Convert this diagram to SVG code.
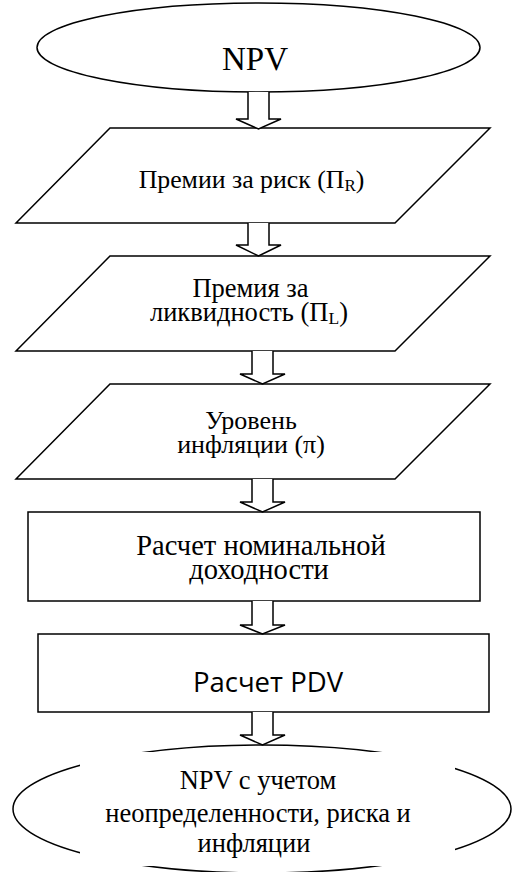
<svg xmlns="http://www.w3.org/2000/svg" width="512" height="872" viewBox="0 0 512 872">
<style>
.s{fill:#fff;stroke:#000;stroke-width:1.5}
.t{font-family:"Liberation Serif","Times New Roman",serif;fill:#000;text-anchor:middle}
.ts{font-family:"Open Sans","Noto Sans",sans-serif;fill:#000;text-anchor:middle}
.a{fill:#fff;stroke:#000;stroke-width:1.5;stroke-linejoin:miter}
</style>
<rect width="512" height="872" fill="#fff"/>
<g id="n1">
<ellipse class="s" cx="258.5" cy="47.5" rx="221.5" ry="44.5"/>
<text class="t" x="255" y="70" font-size="33">NPV</text>
</g>
<g id="n2">
<polygon class="s" points="110,128 490,128 395,223 16,223"/>
<text class="t" x="251.5" y="188" font-size="25.8">Премии за риск (П<tspan font-size="17" dy="3">R</tspan><tspan dy="-3">)</tspan></text>
</g>
<g id="n3">
<polygon class="s" points="110,256 490,256 395,351 16,351"/>
<text class="t" font-size="26.5"><tspan x="250.5" y="297">Премия за</tspan><tspan x="249" y="321">ликвидность (П<tspan font-size="17.5" dy="3">L</tspan><tspan dy="-3">)</tspan></tspan></text>
</g>
<g id="n4">
<polygon class="s" points="110,384 490,384 395,479 16,479"/>
<text class="t" font-size="26"><tspan x="251" y="429">Уровень</tspan><tspan x="251" y="453">инфляции (π)</tspan></text>
</g>
<g id="n5">
<rect class="s" x="28" y="512" width="452" height="89"/>
<text class="t" font-size="28.5"><tspan x="261" y="555">Расчет номинальной</tspan><tspan x="259" y="579">доходности</tspan></text>
</g>
<g id="n6">
<rect class="s" x="38" y="634" width="451" height="78"/>
<text class="ts" x="268" y="692" font-size="27.5">Расчет PDV</text>
</g>
<g id="n7">
<ellipse class="s" cx="262" cy="809" rx="249" ry="64"/>
<rect x="80" y="752" width="375" height="114" fill="#fff"/>
<text class="t" font-size="26.5"><tspan x="258" y="789">NPV с учетом</tspan><tspan x="258" y="822">неопределенности, риска и</tspan><tspan x="254" y="852">инфляции</tspan></text>
</g>
<g id="connectors">
<path class="a" d="M248,92 V119 H236 L258.5,129 L281,119 H269 V92"/>
<path class="a" d="M248,223 V245 H236 L258.5,256 L281,245 H269 V223"/>
<path class="a" d="M252,351 V374 H240 L262.5,384 L285,374 H273 V351"/>
<path class="a" d="M252,479 V502 H240 L262.5,512 L285,502 H273 V479"/>
<path class="a" d="M252,601 V625 H240 L262.5,634 L285,625 H273 V601"/>
<path class="a" d="M252,712 V735 H240 L262.5,745 L285,735 H273 V712"/>
</g>
</svg>
